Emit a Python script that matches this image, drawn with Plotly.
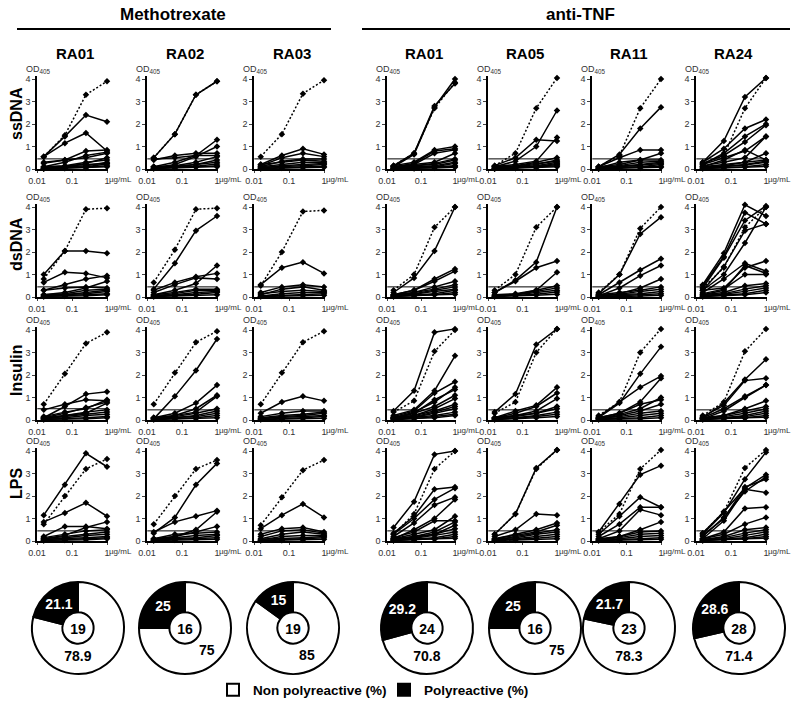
import plotly.graph_objects as go

W, H = 800, 711
FONT = "Liberation Sans, Arial, sans-serif"

# ---------------- data ----------------
conc = [0.0156, 0.0625, 0.25, 1.0]          # µg/mL
antigens = ["ssDNA", "dsDNA", "Insulin", "LPS"]
groups = ["Methotrexate", "anti-TNF"]
patients = ["RA01", "RA02", "RA03", "RA01", "RA05", "RA11", "RA24"]
patient_group = [0, 0, 0, 1, 1, 1, 1]
x_ticks = [0.01, 0.1, 1]
x_ticktext = ["0.01", "0.1", "1"]
y_ticks = [0, 1, 2, 3, 4]

# positive control (dotted) per patient column
ssdna_ctrl = [[0.55, 1.5, 3.3, 3.9], [0.5, 1.55, 3.3, 3.9], [0.55, 1.55, 3.35, 3.95],
              [0.15, 0.7, 2.7, 3.85], [0.15, 0.7, 2.7, 4.05], [0.1, 0.6, 2.7, 4.0], [0.25, 0.6, 2.7, 4.05]]
dsdna_ctrl = [[0.8, 2.05, 3.9, 3.95], [0.65, 2.1, 3.9, 3.95], [0.5, 2.0, 3.8, 3.85],
              [0.3, 1.0, 3.1, 4.0], [0.3, 1.0, 3.1, 4.0], [0.2, 1.0, 3.05, 4.0], [0.4, 1.3, 3.1, 4.0]]
insulin_ctrl = [[0.7, 2.05, 3.4, 3.9], [0.7, 2.1, 3.45, 3.95], [0.7, 2.1, 3.45, 3.95],
                [0.35, 0.85, 3.05, 4.0], [0.3, 0.8, 3.0, 4.05], [0.2, 0.8, 3.0, 4.05], [0.2, 0.8, 3.05, 4.05]]
lps_ctrl = [[0.75, 2.0, 3.2, 3.65], [0.75, 2.0, 3.2, 3.6], [0.7, 1.95, 3.15, 3.6],
            [0.3, 1.2, 3.2, 4.0], [0.3, 1.2, 3.2, 4.05], [0.4, 1.2, 3.2, 4.05], [0.35, 1.3, 3.25, 4.05]]

# cut-off (horizontal line) per patient column
ssdna_thr = [0.45, 0.45, 0.45, 0.45, 0.45, 0.45, 0.45]
dsdna_thr = [0.45, 0.45, 0.45, 0.45, 0.45, 0.45, 0.45]
insulin_thr = [0.5, 0.45, 0.45, 0.45, 0.45, 0.45, 0.45]
lps_thr = [0.45, 0.45, 0.45, 0.45, 0.45, 0.45, 0.45]

# antibody clones (solid) per patient column
ssdna_lines = [
    [[0.55, 1.45, 2.4, 2.1], [0.55, 1.15, 1.6, 0.8], [0.25, 0.4, 0.8, 0.85], [0.1, 0.3, 0.6, 0.75], [0.3, 0.4, 0.5, 0.7],
     [0.05, 0.1, 0.25, 0.5], [0.1, 0.15, 0.3, 0.4], [0.05, 0.1, 0.15, 0.3], [0.02, 0.05, 0.1, 0.22], [0.08, 0.12, 0.2, 0.25],
     [0.03, 0.05, 0.08, 0.15], [0.01, 0.03, 0.05, 0.1]],
    [[0.5, 1.55, 3.3, 3.9], [0.4, 0.6, 0.7, 0.7], [0.1, 0.3, 0.6, 1.3], [0.05, 0.2, 0.55, 1.0], [0.45, 0.5, 0.6, 0.6],
     [0.1, 0.15, 0.3, 0.55], [0.05, 0.1, 0.2, 0.4], [0.1, 0.12, 0.2, 0.3], [0.03, 0.06, 0.12, 0.22], [0.02, 0.04, 0.08, 0.15],
     [0.05, 0.08, 0.1, 0.1]],
    [[0.2, 0.6, 0.9, 0.65], [0.15, 0.5, 0.7, 0.55], [0.1, 0.35, 0.45, 0.45], [0.2, 0.3, 0.4, 0.35], [0.1, 0.2, 0.3, 0.3],
     [0.05, 0.15, 0.2, 0.25], [0.08, 0.1, 0.15, 0.2], [0.03, 0.06, 0.1, 0.12], [0.02, 0.04, 0.06, 0.08]],
    [[0.15, 0.7, 2.8, 3.8], [0.1, 0.65, 2.75, 4.0], [0.15, 0.3, 0.85, 1.0], [0.1, 0.25, 0.8, 0.9], [0.05, 0.2, 0.7, 0.85],
     [0.1, 0.2, 0.3, 0.7], [0.05, 0.15, 0.25, 0.45], [0.1, 0.15, 0.2, 0.4], [0.05, 0.1, 0.15, 0.3], [0.03, 0.05, 0.1, 0.25],
     [0.02, 0.04, 0.08, 0.15], [0.05, 0.08, 0.1, 0.12], [0.01, 0.02, 0.05, 0.08]],
    [[0.1, 0.35, 1.0, 2.6], [0.15, 0.5, 1.3, 1.25], [0.1, 0.2, 0.35, 1.4], [0.1, 0.15, 0.3, 0.5], [0.05, 0.1, 0.2, 0.4],
     [0.1, 0.12, 0.25, 0.35], [0.05, 0.08, 0.15, 0.3], [0.03, 0.06, 0.1, 0.25], [0.02, 0.05, 0.1, 0.2], [0.05, 0.07, 0.1, 0.15],
     [0.01, 0.03, 0.05, 0.1]],
    [[0.1, 0.65, 1.8, 2.75], [0.1, 0.5, 0.85, 0.85], [0.05, 0.3, 0.4, 0.7], [0.1, 0.2, 0.4, 0.4], [0.05, 0.15, 0.3, 0.35],
     [0.08, 0.12, 0.2, 0.3], [0.03, 0.1, 0.15, 0.25], [0.02, 0.05, 0.1, 0.2], [0.05, 0.08, 0.1, 0.12], [0.01, 0.03, 0.05, 0.08]],
    [[0.3, 1.25, 3.2, 4.05], [0.3, 0.9, 1.8, 2.2], [0.2, 0.7, 1.45, 2.0], [0.25, 0.6, 1.2, 1.95], [0.2, 0.5, 0.8, 1.45],
     [0.1, 0.4, 0.85, 0.4], [0.15, 0.3, 0.5, 1.45], [0.1, 0.2, 0.3, 0.7], [0.1, 0.15, 0.3, 0.4], [0.05, 0.1, 0.2, 0.35],
     [0.08, 0.12, 0.18, 0.3], [0.03, 0.06, 0.1, 0.2], [0.02, 0.04, 0.08, 0.12]],
]
dsdna_lines = [
    [[1.0, 2.05, 2.05, 1.95], [0.65, 1.1, 1.05, 0.85], [0.3, 0.55, 0.8, 0.95], [0.1, 0.2, 0.4, 0.7], [0.3, 0.4, 0.45, 0.4],
     [0.1, 0.15, 0.3, 0.35], [0.05, 0.1, 0.2, 0.3], [0.08, 0.12, 0.15, 0.25], [0.02, 0.05, 0.1, 0.15], [0.03, 0.04, 0.06, 0.1]],
    [[0.35, 1.5, 2.95, 3.6], [0.3, 0.65, 0.9, 1.05], [0.2, 0.55, 0.85, 0.8], [0.1, 0.3, 0.6, 1.4], [0.1, 0.2, 0.35, 0.35],
     [0.05, 0.15, 0.3, 0.3], [0.08, 0.1, 0.2, 0.25], [0.03, 0.06, 0.12, 0.2], [0.02, 0.04, 0.08, 0.1]],
    [[0.55, 1.3, 1.55, 1.05], [0.2, 0.45, 0.55, 0.45], [0.1, 0.35, 0.45, 0.3], [0.15, 0.25, 0.3, 0.25], [0.05, 0.15, 0.2, 0.2],
     [0.03, 0.08, 0.12, 0.15], [0.02, 0.04, 0.06, 0.08]],
    [[0.2, 0.85, 2.05, 4.0], [0.1, 0.3, 0.8, 1.25], [0.1, 0.3, 0.7, 1.15], [0.05, 0.2, 0.45, 0.7], [0.1, 0.2, 0.35, 0.55],
     [0.05, 0.15, 0.3, 0.45], [0.08, 0.12, 0.25, 0.35], [0.03, 0.08, 0.15, 0.3], [0.02, 0.05, 0.1, 0.2], [0.05, 0.07, 0.1, 0.12]],
    [[0.2, 0.75, 1.55, 4.0], [0.2, 0.7, 1.3, 1.6], [0.05, 0.1, 0.3, 1.1], [0.1, 0.15, 0.3, 0.5], [0.05, 0.12, 0.25, 0.4],
     [0.08, 0.1, 0.2, 0.3], [0.03, 0.06, 0.12, 0.22], [0.02, 0.04, 0.08, 0.12]],
    [[0.15, 1.0, 2.8, 3.55], [0.1, 0.65, 1.2, 1.7], [0.05, 0.4, 0.95, 1.4], [0.05, 0.15, 0.4, 0.8], [0.1, 0.2, 0.3, 0.45],
     [0.05, 0.12, 0.25, 0.35], [0.08, 0.1, 0.15, 0.25], [0.02, 0.05, 0.1, 0.15], [0.01, 0.02, 0.04, 0.08]],
    [[0.55, 1.95, 4.1, 3.6], [0.5, 1.8, 3.75, 3.25], [0.4, 1.75, 3.4, 4.05], [0.3, 1.35, 2.95, 3.25], [0.3, 1.0, 2.4, 4.0],
     [0.2, 0.8, 1.5, 1.15], [0.3, 0.4, 1.3, 1.6], [0.15, 0.35, 1.0, 1.0], [0.1, 0.3, 1.4, 1.05], [0.1, 0.2, 0.5, 0.6],
     [0.05, 0.15, 0.35, 0.5], [0.08, 0.12, 0.25, 0.4], [0.03, 0.08, 0.15, 0.3], [0.02, 0.05, 0.1, 0.2]],
]
insulin_lines = [
    [[0.1, 0.6, 1.15, 1.25], [0.45, 0.7, 0.9, 0.85], [0.1, 0.3, 0.55, 0.8], [0.15, 0.35, 0.5, 0.9], [0.05, 0.2, 0.3, 0.75],
     [0.1, 0.2, 0.35, 0.45], [0.05, 0.15, 0.25, 0.35], [0.08, 0.1, 0.2, 0.25], [0.02, 0.05, 0.1, 0.15], [0.03, 0.04, 0.06, 0.1]],
    [[0.05, 1.05, 2.2, 3.6], [0.1, 0.3, 0.75, 1.55], [0.1, 0.2, 0.5, 1.1], [0.05, 0.2, 0.35, 1.05], [0.1, 0.15, 0.3, 0.5],
     [0.05, 0.1, 0.2, 0.4], [0.08, 0.1, 0.15, 0.3], [0.03, 0.06, 0.1, 0.2], [0.02, 0.04, 0.06, 0.1]],
    [[0.3, 0.8, 1.05, 0.85], [0.15, 0.3, 0.4, 0.4], [0.1, 0.2, 0.25, 0.35], [0.05, 0.15, 0.2, 0.3], [0.08, 0.1, 0.15, 0.2],
     [0.03, 0.05, 0.1, 0.15], [0.02, 0.03, 0.05, 0.08]],
    [[0.4, 1.3, 3.9, 4.05], [0.2, 0.45, 1.3, 2.85], [0.15, 0.4, 1.2, 1.7], [0.1, 0.35, 0.8, 1.45], [0.1, 0.3, 0.9, 1.35],
     [0.05, 0.3, 0.6, 1.1], [0.1, 0.2, 0.5, 0.95], [0.1, 0.2, 0.4, 0.7], [0.05, 0.15, 0.35, 0.6], [0.08, 0.12, 0.3, 0.5],
     [0.03, 0.1, 0.2, 0.35], [0.02, 0.05, 0.15, 0.25], [0.05, 0.07, 0.1, 0.2]],
    [[0.35, 1.15, 3.35, 4.05], [0.1, 0.4, 0.65, 1.45], [0.1, 0.3, 0.6, 1.2], [0.1, 0.2, 0.4, 0.95], [0.05, 0.2, 0.3, 0.6],
     [0.08, 0.15, 0.3, 0.5], [0.05, 0.1, 0.2, 0.35], [0.03, 0.08, 0.15, 0.25], [0.02, 0.05, 0.1, 0.15]],
    [[0.1, 0.75, 2.05, 3.25], [0.15, 0.8, 1.45, 1.95], [0.1, 0.3, 0.8, 1.85], [0.05, 0.25, 0.5, 1.0], [0.1, 0.3, 0.7, 0.9],
     [0.05, 0.2, 0.4, 0.7], [0.08, 0.15, 0.3, 0.4], [0.05, 0.1, 0.2, 0.3], [0.02, 0.05, 0.1, 0.2], [0.03, 0.04, 0.06, 0.1]],
    [[0.1, 0.75, 1.8, 2.7], [0.15, 0.65, 1.75, 1.85], [0.1, 0.5, 1.05, 1.55], [0.05, 0.4, 1.0, 1.55], [0.1, 0.2, 0.5, 0.85],
     [0.05, 0.2, 0.4, 0.6], [0.08, 0.15, 0.3, 0.5], [0.05, 0.1, 0.2, 0.4], [0.03, 0.08, 0.15, 0.3], [0.02, 0.05, 0.1, 0.2],
     [0.04, 0.06, 0.08, 0.12]],
]
lps_lines = [
    [[1.15, 2.5, 3.9, 3.3], [0.85, 1.25, 1.7, 1.1], [0.2, 0.65, 0.65, 0.55], [0.1, 0.25, 0.6, 0.85], [0.15, 0.3, 0.45, 0.5],
     [0.1, 0.2, 0.3, 0.4], [0.05, 0.15, 0.25, 0.3], [0.08, 0.1, 0.15, 0.2], [0.02, 0.05, 0.1, 0.15], [0.03, 0.04, 0.06, 0.1]],
    [[0.35, 1.05, 2.5, 3.45], [0.4, 0.85, 1.1, 1.35], [0.1, 0.2, 0.5, 1.3], [0.05, 0.2, 0.4, 0.65], [0.1, 0.3, 0.35, 0.4],
     [0.05, 0.15, 0.25, 0.3], [0.08, 0.1, 0.15, 0.25], [0.03, 0.06, 0.1, 0.15], [0.02, 0.04, 0.06, 0.08]],
    [[0.55, 1.15, 1.65, 1.05], [0.3, 0.55, 0.6, 0.4], [0.2, 0.45, 0.5, 0.35], [0.1, 0.3, 0.4, 0.3], [0.05, 0.2, 0.25, 0.25],
     [0.08, 0.1, 0.15, 0.2], [0.03, 0.05, 0.1, 0.15], [0.02, 0.03, 0.05, 0.08]],
    [[0.6, 1.75, 3.85, 4.0], [0.35, 1.1, 2.3, 2.4], [0.3, 1.0, 1.85, 2.35], [0.2, 0.8, 1.6, 1.95], [0.1, 0.5, 1.0, 1.85],
     [0.15, 0.4, 0.9, 0.9], [0.1, 0.3, 0.5, 1.1], [0.05, 0.2, 0.4, 0.85], [0.1, 0.2, 0.3, 0.7], [0.05, 0.15, 0.3, 0.55],
     [0.08, 0.12, 0.25, 0.4], [0.03, 0.08, 0.15, 0.3], [0.02, 0.05, 0.1, 0.2], [0.04, 0.06, 0.08, 0.12]],
    [[0.3, 1.2, 3.25, 4.05], [0.2, 0.5, 1.2, 1.15], [0.1, 0.3, 0.5, 0.8], [0.1, 0.25, 0.4, 0.7], [0.05, 0.2, 0.35, 0.5],
     [0.08, 0.15, 0.3, 0.4], [0.05, 0.1, 0.2, 0.3], [0.03, 0.06, 0.12, 0.2], [0.02, 0.04, 0.08, 0.1]],
    [[0.4, 1.65, 2.95, 3.35], [0.3, 1.1, 1.95, 1.5], [0.2, 0.75, 1.5, 1.5], [0.1, 0.45, 1.4, 1.15], [0.05, 0.2, 0.5, 0.85],
     [0.1, 0.2, 0.4, 0.45], [0.05, 0.15, 0.3, 0.35], [0.08, 0.1, 0.2, 0.25], [0.03, 0.05, 0.1, 0.15], [0.02, 0.03, 0.05, 0.08]],
    [[0.3, 1.25, 2.75, 3.95], [0.35, 1.3, 2.35, 2.95], [0.2, 1.05, 2.2, 2.85], [0.25, 1.0, 2.4, 2.75], [0.1, 0.9, 2.3, 2.15],
     [0.1, 0.4, 1.45, 1.5], [0.1, 0.3, 0.75, 1.05], [0.05, 0.2, 0.5, 0.6], [0.08, 0.15, 0.35, 0.5], [0.05, 0.1, 0.25, 0.4],
     [0.03, 0.08, 0.15, 0.3], [0.02, 0.05, 0.1, 0.2], [0.04, 0.06, 0.08, 0.12]],
]

# donut summary per patient
n_clones = [19, 16, 19, 24, 16, 23, 28]
nonpoly_pct = [78.9, 75, 85, 70.8, 75, 78.3, 71.4]
poly_pct = [21.1, 25, 15, 29.2, 25, 21.7, 28.6]
pie_labels = ["Non polyreactive (%)", "Polyreactive (%)"]

ctrl_by_antigen = [ssdna_ctrl, dsdna_ctrl, insulin_ctrl, lps_ctrl]
lines_by_antigen = [ssdna_lines, dsdna_lines, insulin_lines, lps_lines]
thr_by_antigen = [ssdna_thr, dsdna_thr, insulin_thr, lps_thr]

# ---------------- layout geometry (pixels) ----------------
col_x0 = [37, 147, 254, 387, 488, 592, 696]      # pixel of x = 0.01
col_dec = [35, 35, 35, 34, 34.5, 34.5, 35]       # pixels per decade
row_y4 = [79, 207, 330, 451]                     # pixel of y = 4
unit = 22.5                                      # pixels per OD unit
x_range = [-2, 0.03]
y_range = [0, 4.12]
label_y = [114, 244, 370, 484]
title_y = 54
pie_cx = [78, 185, 293, 427, 535, 629, 739]
pie_cy = 628
pie_r = 46


def px_x(p):
    return p / W


def px_y(p):
    return 1 - p / H


fig = go.Figure()
layout = dict(
    template="none",
    width=W, height=H, margin=dict(l=0, r=0, t=0, b=0, pad=0, autoexpand=False),
    paper_bgcolor="white", plot_bgcolor="white",
    font=dict(family=FONT, color="black"),
    showlegend=True,
    annotations=[], shapes=[],
)

ax_font = dict(family=FONT, size=9, color="#333333")
idx = 0
for r, ant in enumerate(antigens):
    for c in range(len(patients)):
        idx += 1
        xa = "x" if idx == 1 else f"x{idx}"
        ya = "y" if idx == 1 else f"y{idx}"
        xk = "xaxis" if idx == 1 else f"xaxis{idx}"
        yk = "yaxis" if idx == 1 else f"yaxis{idx}"
        x_left = col_x0[c]
        x_right = col_x0[c] + (x_range[1] - x_range[0]) * col_dec[c]
        y_bot = row_y4[r] + 4 * unit
        y_top = row_y4[r] - (y_range[1] - 4) * unit
        layout[xk] = dict(
            type="log", range=x_range, domain=[px_x(x_left), px_x(x_right)], anchor=ya,
            tickvals=x_ticks, ticktext=x_ticktext, ticks="outside", ticklen=2, tickwidth=1,
            showline=True, linecolor="black", linewidth=1.5, showgrid=False, zeroline=False,
            tickfont=ax_font, fixedrange=True, automargin=False,
        )
        layout[yk] = dict(
            range=y_range, domain=[px_y(y_bot), px_y(y_top)], anchor=xa,
            tickvals=y_ticks, ticks="outside", ticklen=3, tickwidth=1,
            showline=True, linecolor="black", linewidth=1.5, showgrid=False, zeroline=False,
            tickfont=ax_font, fixedrange=True, automargin=False,
        )
        # threshold
        thr = thr_by_antigen[r][c]
        fig.add_trace(go.Scatter(x=[0.0102, 1.0], y=[thr, thr], mode="lines", xaxis=xa, yaxis=ya,
                                 line=dict(color="black", width=1), showlegend=False, hoverinfo="skip"))
        # clones
        for vals in lines_by_antigen[r][c]:
            fig.add_trace(go.Scatter(x=conc, y=vals, mode="lines+markers", xaxis=xa, yaxis=ya,
                                     line=dict(color="black", width=1.5),
                                     marker=dict(symbol="diamond", size=5, color="black"),
                                     cliponaxis=False, showlegend=False))
        # control
        fig.add_trace(go.Scatter(x=conc, y=ctrl_by_antigen[r][c], mode="lines+markers", xaxis=xa, yaxis=ya,
                                 line=dict(color="black", width=1.5, dash="2px,2px"),
                                 marker=dict(symbol="diamond", size=5, color="black"),
                                 cliponaxis=False, showlegend=False))
        # OD405 label
        layout["annotations"].append(dict(
            text="OD<sub>405</sub>", xref="paper", yref="paper",
            x=px_x(x_left - 13), y=px_y(row_y4[r] - 10), xanchor="left", yanchor="middle",
            showarrow=False, font=dict(family=FONT, size=9, color="#333333")))
        # unit label next to "1"
        layout["annotations"].append(dict(
            text="µg/mL", xref=xa, yref="paper", x=0, y=px_y(y_bot + 4),
            xanchor="left", yanchor="top", xshift=0, showarrow=False,
            font=dict(family=FONT, size=8, color="#333333")))
    layout["annotations"].append(dict(
        text=f"<b>{ant}</b>", xref="paper", yref="paper", x=px_x(16), y=px_y(label_y[r]),
        textangle=-90, showarrow=False, xanchor="center", yanchor="middle",
        font=dict(family=FONT, size=16, color="black")))

# column titles
for c, p in enumerate(patients):
    cx = col_x0[c] + (x_range[1] - x_range[0]) * col_dec[c] / 2
    layout["annotations"].append(dict(
        text=f"<b>{p}</b>", xref="paper", yref="paper", x=px_x(cx + 2), y=px_y(title_y),
        showarrow=False, xanchor="center", yanchor="middle", font=dict(family=FONT, size=15, color="black")))

# group titles and rules
group_cx = [173, 580]
group_line = [[17, 331], [362, 790]]
for g, name in enumerate(groups):
    layout["annotations"].append(dict(
        text=f"<b>{name}</b>", xref="paper", yref="paper", x=px_x(group_cx[g]), y=px_y(15),
        showarrow=False, xanchor="center", yanchor="middle", font=dict(family=FONT, size=17, color="black")))
    layout["shapes"].append(dict(type="line", xref="paper", yref="paper",
                                 x0=px_x(group_line[g][0]), x1=px_x(group_line[g][1]),
                                 y0=px_y(29), y1=px_y(29), line=dict(color="black", width=2)))

# donuts
for c in range(len(patients)):
    fig.add_trace(go.Pie(
        labels=pie_labels, values=[nonpoly_pct[c], poly_pct[c]],
        sort=False, direction="clockwise", rotation=0, hole=0.34,
        marker=dict(colors=["white", "black"], line=dict(color="black", width=2)),
        texttemplate="%{value}", textposition="inside", insidetextorientation="horizontal",
        textfont=dict(family=FONT, size=14, color=["black", "white"], weight="bold"),
        title=dict(text=f"{n_clones[c]}", position="middle center",
                   font=dict(family=FONT, size=14, color="black", weight="bold")),
        domain=dict(x=[px_x(pie_cx[c] - pie_r), px_x(pie_cx[c] + pie_r)],
                    y=[px_y(pie_cy + pie_r), px_y(pie_cy - pie_r)]),
        showlegend=(c == 0), hoverinfo="label+value",
    ))

layout["legend"] = dict(orientation="h", x=px_x(213), y=px_y(690), xanchor="left", yanchor="middle",
                        font=dict(family=FONT, size=13.5, color="black", weight="bold"),
                        itemwidth=30, entrywidth=126, entrywidthmode="pixels",
                        bgcolor="rgba(0,0,0,0)")
layout["uniformtext"] = dict(minsize=14, mode="show")

fig.update_layout(**layout)
fig.write_html("out.html", config={"displayModeBar": False},
               post_script="document.body.style.margin='0px';document.body.style.padding='0px';")
